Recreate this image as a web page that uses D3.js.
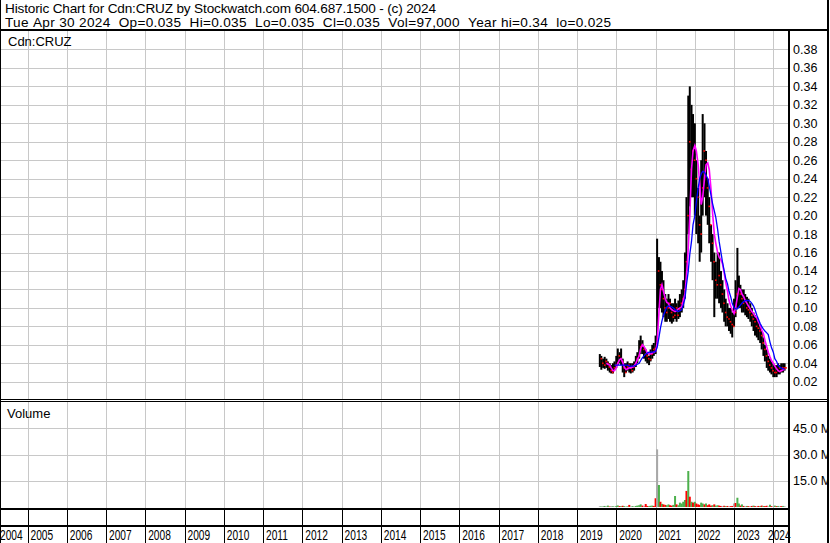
<!DOCTYPE html>
<html><head><meta charset="utf-8">
<script src="https://cdn.jsdelivr.net/npm/d3@7"></script>
<style>
body{margin:0;background:#fff}
svg{display:block}
text{font-family:"Liberation Sans",Arial,sans-serif;fill:#000}
</style>
</head><body>
<svg id="c" width="830" height="543"></svg>
<script>
// ---------------- DATA ----------------
const titleLine1 = "Historic Chart for Cdn:CRUZ by Stockwatch.com 604.687.1500 - (c) 2024";
const titleLine2 = "Tue Apr 30 2024  Op=0.035  Hi=0.035  Lo=0.035  Cl=0.035  Vol=97,000  Year hi=0.34  lo=0.025";
const symbolLabel = "Cdn:CRUZ";
const volumeLabel = "Volume";

const yearLabels = ["2004","2005","2006","2007","2008","2009","2010","2011","2012","2013","2014","2015","2016","2017","2018","2019","2020","2021","2022","2023","2024"];
const priceTicks = [0.02,0.04,0.06,0.08,0.10,0.12,0.14,0.16,0.18,0.20,0.22,0.24,0.26,0.28,0.30,0.32,0.34,0.36,0.38];
const volTicks = [15,30,45];          // millions
const volTickLabels = ["15.0 M","30.0 M","45.0 M"];

const dates = [
"2019-08-01","2019-08-15","2019-09-01","2019-09-15","2019-10-01","2019-10-15","2019-11-01","2019-11-15","2019-12-01","2019-12-15",
"2020-01-01","2020-01-15","2020-02-01","2020-02-15","2020-03-01","2020-03-15","2020-04-01","2020-04-15","2020-05-01","2020-05-15","2020-06-01","2020-06-15",
"2020-07-01","2020-07-15","2020-08-01","2020-08-15","2020-09-01","2020-09-15","2020-10-01","2020-10-15","2020-11-01","2020-11-15","2020-12-01","2020-12-15",
"2021-01-01","2021-01-15","2021-02-01","2021-02-15","2021-03-01","2021-03-15","2021-04-01","2021-04-15","2021-05-01","2021-05-15","2021-06-01","2021-06-15",
"2021-07-01","2021-07-15","2021-08-01","2021-08-15","2021-09-01","2021-09-15","2021-10-01","2021-10-15","2021-11-01","2021-11-15","2021-12-01","2021-12-15",
"2022-01-01","2022-01-15","2022-02-01","2022-02-15","2022-03-01","2022-03-15","2022-04-01","2022-04-15","2022-05-01","2022-05-15","2022-06-01","2022-06-15",
"2022-07-01","2022-07-15","2022-08-01","2022-08-15","2022-09-01","2022-09-15","2022-10-01","2022-10-15","2022-11-01","2022-11-15","2022-12-01","2022-12-15",
"2023-01-01","2023-01-15","2023-02-01","2023-02-15","2023-03-01","2023-03-15","2023-04-01","2023-04-15","2023-05-01","2023-05-15","2023-06-01","2023-06-15",
"2023-07-01","2023-07-15","2023-08-01","2023-08-15","2023-09-01","2023-09-15","2023-10-01","2023-10-15","2023-11-01","2023-11-15","2023-12-01","2023-12-15",
"2024-01-01","2024-01-15","2024-02-01","2024-02-15","2024-03-01","2024-03-15","2024-04-01","2024-04-15"];

const high = [
0.050,0.048,0.045,0.047,0.045,0.042,0.040,0.038,0.040,0.042,
0.048,0.056,0.052,0.056,0.045,0.040,0.040,0.042,0.040,0.040,0.040,0.042,0.048,0.052,0.065,0.070,0.065,0.058,0.055,0.050,0.048,0.055,0.060,0.062,
0.070,0.175,0.155,0.150,0.140,0.130,0.115,0.110,0.115,0.110,0.105,0.105,0.110,0.105,0.108,0.115,0.120,0.130,0.160,0.220,0.330,0.340,0.320,0.310,
0.300,0.260,0.230,0.200,0.260,0.310,0.300,0.270,0.240,0.220,0.190,0.180,0.160,0.150,0.160,0.160,0.140,0.130,0.120,0.110,0.105,0.100,0.100,0.095,
0.110,0.130,0.165,0.135,0.125,0.120,0.120,0.115,0.112,0.110,0.105,0.100,0.095,0.092,0.090,0.085,0.080,0.075,0.068,0.060,0.055,0.048,0.045,0.042,
0.040,0.038,0.038,0.040,0.038,0.040,0.040,0.040];

const low = [
0.036,0.033,0.035,0.034,0.035,0.032,0.030,0.029,0.029,0.033,
0.035,0.038,0.040,0.038,0.030,0.025,0.030,0.032,0.030,0.029,0.030,0.032,0.036,0.040,0.045,0.050,0.050,0.045,0.042,0.040,0.038,0.042,0.045,0.048,
0.050,0.060,0.100,0.100,0.095,0.090,0.085,0.085,0.088,0.085,0.083,0.085,0.088,0.085,0.088,0.090,0.095,0.100,0.110,0.140,0.180,0.210,0.220,0.220,
0.200,0.180,0.170,0.150,0.160,0.200,0.220,0.200,0.190,0.170,0.150,0.130,0.090,0.110,0.110,0.105,0.100,0.095,0.085,0.080,0.080,0.075,0.072,0.068,
0.080,0.090,0.100,0.100,0.100,0.095,0.095,0.092,0.090,0.088,0.085,0.080,0.075,0.070,0.068,0.065,0.062,0.055,0.048,0.042,0.035,0.032,0.030,0.028,
0.025,0.025,0.025,0.028,0.028,0.030,0.030,0.032];

const close = [
0.045,0.040,0.038,0.042,0.040,0.036,0.032,0.030,0.035,0.038,
0.040,0.048,0.045,0.042,0.035,0.030,0.036,0.038,0.035,0.032,0.036,0.038,0.045,0.048,0.058,0.060,0.055,0.050,0.048,0.045,0.044,0.050,0.055,0.056,
0.060,0.140,0.125,0.120,0.110,0.100,0.095,0.100,0.105,0.095,0.090,0.092,0.100,0.092,0.098,0.105,0.110,0.120,0.150,0.200,0.280,0.250,0.270,0.260,
0.240,0.220,0.190,0.180,0.230,0.270,0.260,0.230,0.210,0.190,0.170,0.150,0.130,0.125,0.135,0.125,0.115,0.105,0.095,0.090,0.088,0.085,0.082,0.080,
0.095,0.115,0.120,0.115,0.110,0.105,0.108,0.100,0.098,0.095,0.092,0.088,0.085,0.080,0.078,0.075,0.070,0.062,0.055,0.048,0.042,0.038,0.035,0.032,
0.030,0.030,0.032,0.035,0.032,0.035,0.035,0.035];

// short moving average (magenta)
const maShort = [
null,null,null,null,0.040,0.039,0.038,0.035,0.032,0.032,
0.035,0.040,0.044,0.045,0.041,0.036,0.033,0.034,0.035,0.035,0.036,0.037,0.040,0.044,0.048,0.056,0.060,0.058,0.055,0.051,0.050,0.050,0.051,0.052,
0.053,0.062,0.095,0.120,0.125,0.118,0.110,0.106,0.105,0.100,0.098,0.097,0.096,0.097,0.099,0.100,0.101,0.108,0.115,0.135,0.165,0.200,0.250,0.270,
0.276,0.270,0.255,0.235,0.212,0.220,0.240,0.255,0.257,0.250,0.228,0.203,0.180,0.170,0.160,0.155,0.152,0.148,0.138,0.128,0.118,0.108,0.102,0.098,
0.094,0.100,0.112,0.121,0.120,0.115,0.112,0.108,0.105,0.102,0.099,0.096,0.094,0.091,0.089,0.085,0.081,0.076,0.072,0.065,0.058,0.052,0.047,0.043,
0.040,0.037,0.034,0.032,0.031,0.032,0.033,0.033];

// long moving average (blue)
const maLong = [
null,null,null,null,null,null,null,null,null,0.038,
0.038,0.038,0.038,0.038,0.038,0.038,0.038,0.038,0.037,0.037,0.037,0.037,0.038,0.039,0.040,0.043,0.046,0.048,0.050,0.051,0.052,0.052,0.052,0.052,
0.053,0.057,0.068,0.078,0.086,0.092,0.097,0.101,0.102,0.102,0.101,0.100,0.098,0.097,0.096,0.097,0.098,0.103,0.110,0.125,0.140,0.158,0.172,0.190,
0.200,0.215,0.230,0.240,0.245,0.248,0.247,0.244,0.240,0.232,0.222,0.213,0.205,0.198,0.185,0.172,0.160,0.150,0.140,0.132,0.126,0.118,0.112,0.105,
0.100,0.099,0.099,0.101,0.103,0.105,0.107,0.108,0.108,0.108,0.107,0.105,0.102,0.098,0.092,0.088,0.083,0.080,0.077,0.075,0.073,0.071,0.063,0.057,
0.052,0.045,0.042,0.038,0.036,0.035,0.034,0.034];

// volume in millions and day direction (u = up, d = down, n = unchanged)
const volume = [
0.4,0.3,0.5,0.6,0.4,0.8,0.3,0.5,0.4,0.3,
0.6,0.9,0.5,0.4,0.7,0.5,0.3,0.4,1.2,0.4,0.5,0.3,0.6,0.8,1.0,1.5,0.8,0.6,1.7,0.6,0.5,0.7,0.8,0.6,
5.0,33.0,12.6,3.0,1.8,1.5,1.2,1.0,1.5,1.0,0.8,1.2,6.3,1.5,1.0,2.5,2.0,3.0,4.0,9.2,20.6,5.9,3.0,2.5,
3.0,2.0,1.5,1.2,2.5,2.0,1.5,2.0,1.0,1.5,0.8,1.0,1.5,0.8,1.0,0.8,0.6,0.5,0.7,0.5,0.6,0.4,0.5,0.6,
2.0,2.3,5.3,2.0,0.8,1.5,0.6,0.5,0.6,0.5,0.4,0.6,0.8,0.5,0.4,0.6,0.5,0.8,0.6,0.5,0.7,0.4,1.3,0.5,
0.4,0.8,0.5,0.6,0.4,0.5,0.6,0.4];
const volDir = [
"n","u","n","u","n","u","d","n","u","n",
"u","u","d","u","d","u","n","u","d","n","u","n","u","u","u","u","d","n","d","d","u","u","u","d",
"d","n","u","d","u","d","d","u","u","d","d","u","u","d","u","u","u","u","u","d","u","d","u","d",
"u","d","d","d","u","u","d","u","d","d","d","u","d","u","u","d","d","n","d","u","d","n","d","d",
"n","d","u","u","d","u","d","n","u","d","n","d","u","d","n","d","u","d","u","d","d","n","u","d",
"n","u","d","u","n","d","u","n"];

// ---------------- CHART ----------------
const parse = d3.timeParse("%Y-%m-%d");
const rows = dates.map((d,i)=>({date:parse(d),hi:high[i],lo:low[i],cl:close[i],m1:maShort[i],m2:maLong[i],v:volume[i],dir:volDir[i]}));

const svg = d3.select("#c");
const plotR = 788;
const x = d3.scaleTime().domain([new Date(2005,0,1),new Date(2024,0,1)]).range([27.5,773.3]);
const y = d3.scaleLinear().domain([0,0.40]).range([400.2,31]);
const yv = d3.scaleLinear().domain([0,60]).range([507,402.2]);

const defs = svg.append("defs");
defs.append("clipPath").attr("id","cp").append("rect").attr("x",0).attr("y",31).attr("width",plotR).attr("height",368);
defs.append("clipPath").attr("id","cv").append("rect").attr("x",0).attr("y",402).attr("width",plotR).attr("height",106);

const gridC = "#c8c8c8";
const years = yearLabels.map(Number);

// price grid
const gp = svg.append("g").attr("shape-rendering","crispEdges");
gp.selectAll("line.h").data(priceTicks).join("line")
  .attr("x1",0).attr("x2",plotR).attr("y1",d=>Math.round(y(d))+0.5).attr("y2",d=>Math.round(y(d))+0.5)
  .attr("stroke",gridC);
gp.selectAll("line.v").data(years.slice(1)).join("line")
  .attr("x1",d=>Math.round(x(new Date(d,0,1)))+0.5).attr("x2",d=>Math.round(x(new Date(d,0,1)))+0.5)
  .attr("y1",31).attr("y2",399).attr("stroke",gridC);

// volume grid
const gv = svg.append("g").attr("shape-rendering","crispEdges");
gv.selectAll("line.h").data(volTicks).join("line")
  .attr("x1",0).attr("x2",plotR).attr("y1",d=>Math.round(yv(d))+0.5).attr("y2",d=>Math.round(yv(d))+0.5)
  .attr("stroke",gridC);
gv.selectAll("line.v").data(years.slice(1)).join("line")
  .attr("x1",d=>Math.round(x(new Date(d,0,1)))+0.5).attr("x2",d=>Math.round(x(new Date(d,0,1)))+0.5)
  .attr("y1",402).attr("y2",508).attr("stroke",gridC);

// price bars
const gb = svg.append("g").attr("clip-path","url(#cp)");
gb.selectAll("rect.bar").data(rows).join("rect")
  .attr("x",d=>x(d.date)-1).attr("width",2)
  .attr("y",d=>y(d.hi)).attr("height",d=>Math.max(1,y(d.lo)-y(d.hi)))
  .attr("fill","#000");
gb.selectAll("rect.cl").data(rows).join("rect")
  .attr("x",d=>x(d.date)+0.7).attr("width",1.6)
  .attr("y",d=>y(d.cl)-0.8).attr("height",1.6)
  .attr("fill","#ff0000");

// moving averages
const lineShort = d3.line().defined(d=>d.m1!=null).x(d=>x(d.date)).y(d=>y(d.m1));
const lineLong = d3.line().defined(d=>d.m2!=null).x(d=>x(d.date)).y(d=>y(d.m2));
gb.append("path").datum(rows).attr("d",lineShort).attr("fill","none").attr("stroke","#ff00ff").attr("stroke-width",1.6);
gb.append("path").datum(rows).attr("d",lineLong).attr("fill","none").attr("stroke","#0000ff").attr("stroke-width",1.3);

// volume bars
const volColor = {u:"#4cb04c",d:"#ff0000",n:"#a8a8a8"};
svg.append("g").attr("clip-path","url(#cv)").selectAll("rect").data(rows).join("rect")
  .attr("x",d=>x(d.date)-1).attr("width",2)
  .attr("y",d=>yv(d.v)).attr("height",d=>yv(0)-yv(d.v))
  .attr("fill",d=>volColor[d.dir]);

// frame lines
const fr = svg.append("g").attr("shape-rendering","crispEdges").attr("fill","#000");
fr.append("rect").attr("x",0).attr("y",29).attr("width",830).attr("height",2);      // header separator
fr.append("rect").attr("x",0).attr("y",0).attr("width",1).attr("height",543);       // left border
fr.append("rect").attr("x",0).attr("y",399).attr("width",829).attr("height",1);     // price bottom
fr.append("rect").attr("x",0).attr("y",401).attr("width",829).attr("height",1);     // volume top
fr.append("rect").attr("x",0).attr("y",508).attr("width",plotR).attr("height",2);   // volume bottom
fr.append("rect").attr("x",0).attr("y",525).attr("width",plotR).attr("height",2);   // tick band bottom
fr.append("rect").attr("x",plotR).attr("y",31).attr("width",2).attr("height",512);  // right axis line

// year ticks in the date band
fr.selectAll("rect.yt").data(years.slice(1)).join("rect")
  .attr("x",d=>Math.round(x(new Date(d,0,1)))).attr("y",510).attr("width",1).attr("height",33);

// price axis (right)
const ax = svg.append("g").attr("transform",`translate(${plotR+1},0)`)
  .call(d3.axisRight(y).tickValues(priceTicks).tickFormat(d3.format(".2f")).tickSize(0).tickPadding(4));
ax.select(".domain").remove();
ax.selectAll("text").attr("font-size",12.5).attr("font-family","Liberation Sans, Arial, sans-serif").attr("fill","#000");

// volume axis (right)
const axv = svg.append("g").attr("transform",`translate(${plotR+1},0)`)
  .call(d3.axisRight(yv).tickValues(volTicks).tickFormat((d,i)=>volTickLabels[i]).tickSize(0).tickPadding(4));
axv.select(".domain").remove();
axv.selectAll("text").attr("font-size",12.5).attr("font-family","Liberation Sans, Arial, sans-serif").attr("fill","#000");
// right border drawn over the labels so the "M" is cut like the original
svg.append("rect").attr("x",827).attr("y",0).attr("width",2).attr("height",543).attr("fill","#000").attr("shape-rendering","crispEdges");
svg.append("rect").attr("x",829).attr("y",0).attr("width",1).attr("height",543).attr("fill","#fff").attr("shape-rendering","crispEdges");

// year labels (tall, condensed)
svg.selectAll("text.yl").data(yearLabels).join("text")
  .attr("class","yl")
  .attr("transform",d=>`translate(${Math.max(0,Math.min(x(new Date(+d,0,1))+3,768))},539.5) scale(0.68,1)`)
  .attr("font-size",15)
  .text(d=>d);

// header lines: spread letters so each line spans the same width as the original
function fitLine(txt, yPos, target){
  const t = svg.append("text").attr("x",5).attr("y",yPos).attr("font-size",13.6)
    .text(txt.replace(/ /g,"\u00a0"));
  const nat = t.node().getComputedTextLength();
  const ls = (target - nat) / Math.max(1, txt.length - 1);
  t.attr("letter-spacing", ls.toFixed(3));
  return t;
}
fitLine(titleLine1, 13, 431);
fitLine(titleLine2, 26.5, 606);
svg.append("text").attr("x",8).attr("y",46).attr("font-size",13).text(symbolLabel);
svg.append("text").attr("x",7).attr("y",418).attr("font-size",13).text(volumeLabel);
</script>
</body></html>
